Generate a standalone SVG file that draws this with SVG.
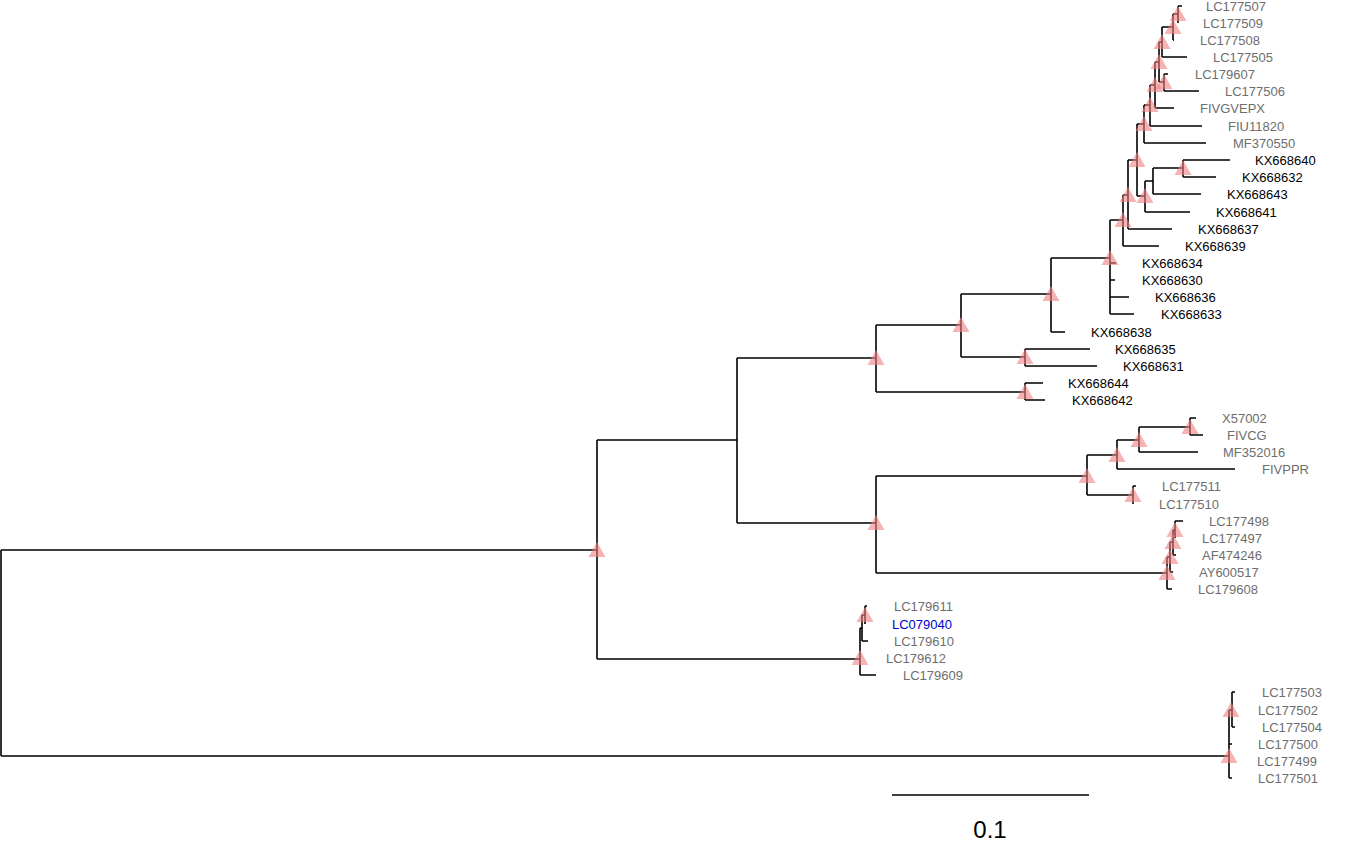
<svg xmlns="http://www.w3.org/2000/svg" xmlns:xlink="http://www.w3.org/1999/xlink" width="1350" height="856" viewBox="0 0 1350 856">
<style>
.e{fill:none;stroke:#000;stroke-width:1.6}
text{font-family:"Liberation Sans",Arial,sans-serif;font-size:13px}
.g{fill:#6e6e6e}.k{fill:#000}.b{fill:#0000c8}
</style>
<defs><polygon id="t" points="0,-8 8.5,7 -8.5,7" fill="#f08080" fill-opacity="0.6"/></defs>
<rect width="1350" height="856" fill="#fff"/>
<g id="connectors">
<path class="e" d="M1 550V756M1 550H597M1 756H1229
M597 440V659M597 440H737M597 659H860
M737 358V523M737 358H876M737 523H876
M876 325V392M876 325H961M876 392H1025
M1025 383V400M1025 383H1043M1025 400H1045
M961 294V357M961 294H1051M961 357H1025
M1025 349V366M1025 349H1090M1025 366H1097
M1051 258V332M1051 258H1110M1051 332H1065
M1110 220V314M1110 220H1123M1110 263H1116M1110 280H1115M1110 297H1129M1110 314H1134
M1123 195V246M1123 195H1128M1123 246H1159
M1128 160V229M1128 160H1137M1128 229H1172
M1137 124V196M1137 124H1144M1137 196H1145
M1145 181V212M1145 181H1153M1145 212H1190
M1153 168V194M1153 168H1183M1153 194H1201
M1183 160V177M1183 160H1230M1183 177H1216
M1144 105V143M1144 105H1150M1144 143H1206
M1150 85V126M1150 85H1155M1150 126H1202
M1155 62V108M1155 62H1159M1155 108H1174
M1159 42V82M1159 42H1162M1159 82H1164
M1164 74V91M1164 74H1168M1164 91H1199
M1162 27V57M1162 27H1173M1162 57H1187
M1173 14V40M1173 14H1178M1173 40H1174
M1178 6V23M1178 6H1182
M876 476V573M876 476H1087M876 573H1167
M1087 455V495M1087 455H1117M1087 495H1133
M1133 486V504M1133 486H1136
M1117 440V469M1117 440H1139M1117 469H1235
M1139 427V452M1139 427H1190M1139 452H1198
M1190 418V435M1190 418H1196M1190 435H1203
M1167 557V589M1167 557H1170M1167 589H1172
M1170 542V572M1170 542H1173M1170 572H1173
M1173 530V555M1173 530H1175M1173 555H1176
M1175 521V538M1175 521H1183
M860 628V675M860 628H862M860 675H876
M862 615V641M862 615H865M862 641H868
M865 606V624M865 606H867
M1229 710V778M1229 710H1232M1229 744H1232M1229 778H1232
M1232 692V727M1232 692H1235M1232 727H1235"/>
</g>
<g id="markers">
<use href="#t" x="597" y="550"/><use href="#t" x="876" y="358"/><use href="#t" x="961" y="325"/>
<use href="#t" x="1051" y="294"/><use href="#t" x="1110" y="258"/><use href="#t" x="1123" y="220"/>
<use href="#t" x="1128" y="195"/><use href="#t" x="1137" y="160"/><use href="#t" x="1145" y="196"/>
<use href="#t" x="1183" y="168"/><use href="#t" x="1025" y="357"/><use href="#t" x="1025" y="392"/>
<use href="#t" x="1144" y="124"/><use href="#t" x="1150" y="105"/><use href="#t" x="1155" y="85"/>
<use href="#t" x="1159" y="62"/><use href="#t" x="1164" y="82"/><use href="#t" x="1162" y="42"/>
<use href="#t" x="1173" y="27"/><use href="#t" x="1178" y="14"/>
<use href="#t" x="876" y="523"/><use href="#t" x="1087" y="476"/><use href="#t" x="1117" y="455"/>
<use href="#t" x="1139" y="440"/><use href="#t" x="1190" y="427"/><use href="#t" x="1133" y="495"/>
<use href="#t" x="1167" y="573"/><use href="#t" x="1170" y="557"/><use href="#t" x="1173" y="542"/><use href="#t" x="1175" y="530"/>
<use href="#t" x="865" y="615"/><use href="#t" x="860" y="658"/>
<use href="#t" x="1231" y="710"/><use href="#t" x="1229" y="756"/>
</g>
<g id="labels">
<text class="g" x="1206" y="11">LC177507</text>
<text class="g" x="1203" y="28">LC177509</text>
<text class="g" x="1200" y="45">LC177508</text>
<text class="g" x="1213" y="62">LC177505</text>
<text class="g" x="1195" y="79">LC179607</text>
<text class="g" x="1225" y="96">LC177506</text>
<text class="g" x="1200" y="113">FIVGVEPX</text>
<text class="g" x="1228" y="131">FIU11820</text>
<text class="g" x="1233" y="148">MF370550</text>
<text class="k" x="1255" y="165">KX668640</text>
<text class="k" x="1242" y="182">KX668632</text>
<text class="k" x="1227" y="199">KX668643</text>
<text class="k" x="1216" y="217">KX668641</text>
<text class="k" x="1198" y="234">KX668637</text>
<text class="k" x="1185" y="251">KX668639</text>
<text class="k" x="1142" y="268">KX668634</text>
<text class="k" x="1142" y="285">KX668630</text>
<text class="k" x="1155" y="302">KX668636</text>
<text class="k" x="1161" y="319">KX668633</text>
<text class="k" x="1091" y="337">KX668638</text>
<text class="k" x="1115" y="354">KX668635</text>
<text class="k" x="1123" y="371">KX668631</text>
<text class="k" x="1068" y="388">KX668644</text>
<text class="k" x="1072" y="405">KX668642</text>
<text class="g" x="1222" y="423">X57002</text>
<text class="g" x="1227" y="440">FIVCG</text>
<text class="g" x="1223" y="457">MF352016</text>
<text class="g" x="1262" y="474">FIVPPR</text>
<text class="g" x="1162" y="491">LC177511</text>
<text class="g" x="1159" y="509">LC177510</text>
<text class="g" x="1209" y="526">LC177498</text>
<text class="g" x="1202" y="543">LC177497</text>
<text class="g" x="1202" y="560">AF474246</text>
<text class="g" x="1199" y="577">AY600517</text>
<text class="g" x="1198" y="594">LC179608</text>
<text class="g" x="894" y="611">LC179611</text>
<text class="b" x="892" y="629">LC079040</text>
<text class="g" x="894" y="646">LC179610</text>
<text class="g" x="886" y="663">LC179612</text>
<text class="g" x="903" y="680">LC179609</text>
<text class="g" x="1262" y="697">LC177503</text>
<text class="g" x="1258" y="715">LC177502</text>
<text class="g" x="1262" y="732">LC177504</text>
<text class="g" x="1258" y="749">LC177500</text>
<text class="g" x="1257" y="766">LC177499</text>
<text class="g" x="1258" y="783">LC177501</text>
</g>
<g id="scale">
<path class="e" d="M892 795H1089"/>
<text x="990" y="838" text-anchor="middle" style="font-size:24px">0.1</text>
</g>
</svg>
